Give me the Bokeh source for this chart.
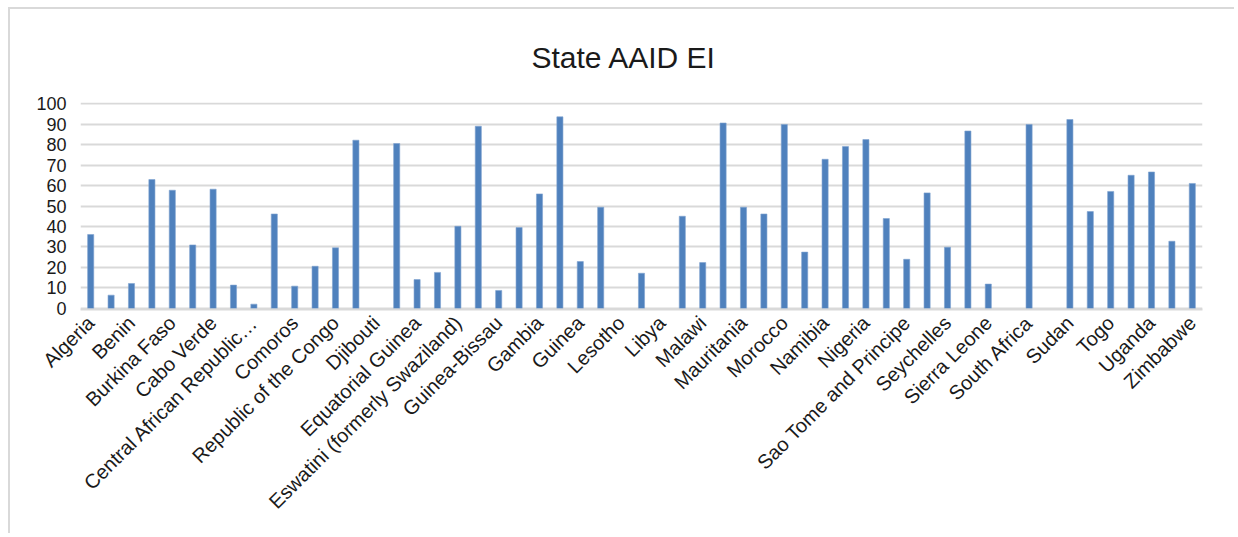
import math
from bokeh.plotting import figure
from bokeh.models import ColumnDataSource, FixedTicker, Range1d
from bokeh.embed import file_html
from bokeh.resources import INLINE

countries = [
    "Algeria", "Angola", "Benin", "Botswana", "Burkina Faso", "Burundi",
    "Cabo Verde", "Cameroon", "Central African Republic…", "Chad", "Comoros",
    "Democratic Republic of the Congo", "Republic of the Congo", "Côte d'Ivoire",
    "Djibouti", "Egypt", "Equatorial Guinea", "Eritrea",
    "Eswatini (formerly Swaziland)", "Ethiopia", "Guinea-Bissau", "Gabon",
    "Gambia", "Ghana", "Guinea", "Kenya", "Lesotho", "Liberia", "Libya",
    "Madagascar", "Malawi", "Mali", "Mauritania", "Mauritius", "Morocco",
    "Mozambique", "Namibia", "Niger", "Nigeria", "Rwanda",
    "Sao Tome and Principe", "Senegal", "Seychelles", "Sahrawi Republic",
    "Sierra Leone", "Somalia", "South Africa", "South Sudan", "Sudan",
    "Tanzania", "Togo", "Tunisia", "Uganda", "Zambia", "Zimbabwe",
]

values = [
    36.1, 6.5, 12.2, 62.9, 57.7, 31.0, 58.2, 11.4, 2.1, 46.1, 10.9,
    20.6, 29.6, 82.1, None, 80.5, 14.1, 17.6, 40.1, 88.9, 8.8, 39.5,
    55.9, 93.5, 22.9, 49.4, None, 17.2, None, 45.0, 22.4, 90.5, 49.4,
    46.1, 89.8, 27.5, 72.8, 79.0, 82.4, 43.9, 24.0, 56.4, 29.9, 86.6,
    11.9, None, 89.8, None, 92.2, 47.3, 57.1, 65.0, 66.6, 32.8, 61.0,
]

y_ticks = [0, 10, 20, 30, 40, 50, 60, 70, 80, 90, 100]
title_text = "State AAID EI"

xs = [i for i, v in enumerate(values) if v is not None]
tops = [v for v in values if v is not None]
src = ColumnDataSource(dict(x=xs, top=tops, country=[countries[i] for i in xs]))

FONT = "Liberation Sans"

p = figure(
    width=1226, height=526,
    x_range=Range1d(-0.5, len(countries) - 0.5),
    y_range=Range1d(-0.5, 100.5),
    output_backend="svg", toolbar_location=None,
    title=title_text,
    min_border_left=70, min_border_right=34,
    min_border_top=93, min_border_bottom=226,
)
p.styles = {
    "margin-left": "8px", "margin-top": "7px",
    "border-left": "2px solid #D9D9D9", "border-top": "2px solid #D9D9D9",
}

p.vbar(x="x", top="top", width=0.3, bottom=0, source=src,
       fill_color="#4F81BD", line_color="#7FA3D0", line_width=0.6)

p.title.text_font = FONT
p.title.text_font_size = "30px"
p.title.text_font_style = "normal"
p.title.text_color = "#1a1a1a"
p.title.align = "left"
p.title.offset = 451
p.title.standoff = 57

p.outline_line_color = None
p.background_fill_color = "white"
p.border_fill_color = "white"

p.xgrid.grid_line_color = None
p.ygrid.grid_line_color = "#D9D9D9"
p.ygrid.grid_line_width = 2
p.ygrid.ticker = FixedTicker(ticks=y_ticks)

p.yaxis.ticker = FixedTicker(ticks=y_ticks)
p.yaxis.axis_line_color = None
p.yaxis.major_tick_line_color = None
p.yaxis.minor_tick_line_color = None
p.yaxis.major_label_text_font = FONT
p.yaxis.major_label_text_font_size = "18px"
p.yaxis.major_label_text_color = "#1a1a1a"
p.yaxis.major_label_standoff = 8

even = list(range(0, len(countries), 2))
p.xaxis.ticker = FixedTicker(ticks=even)
p.xaxis.major_label_overrides = {i: countries[i] for i in even}
p.xaxis.major_label_orientation = math.pi / 4
p.xaxis.axis_line_color = "#D9D9D9"
p.xaxis.axis_line_width = 2
p.xaxis.major_tick_line_color = None
p.xaxis.minor_tick_line_color = None
p.xaxis.major_label_text_font = FONT
p.xaxis.major_label_text_font_size = "20px"
p.xaxis.major_label_text_color = "#1a1a1a"
p.xaxis.major_label_standoff = 4

open("out.html", "w").write(file_html(p, INLINE))
